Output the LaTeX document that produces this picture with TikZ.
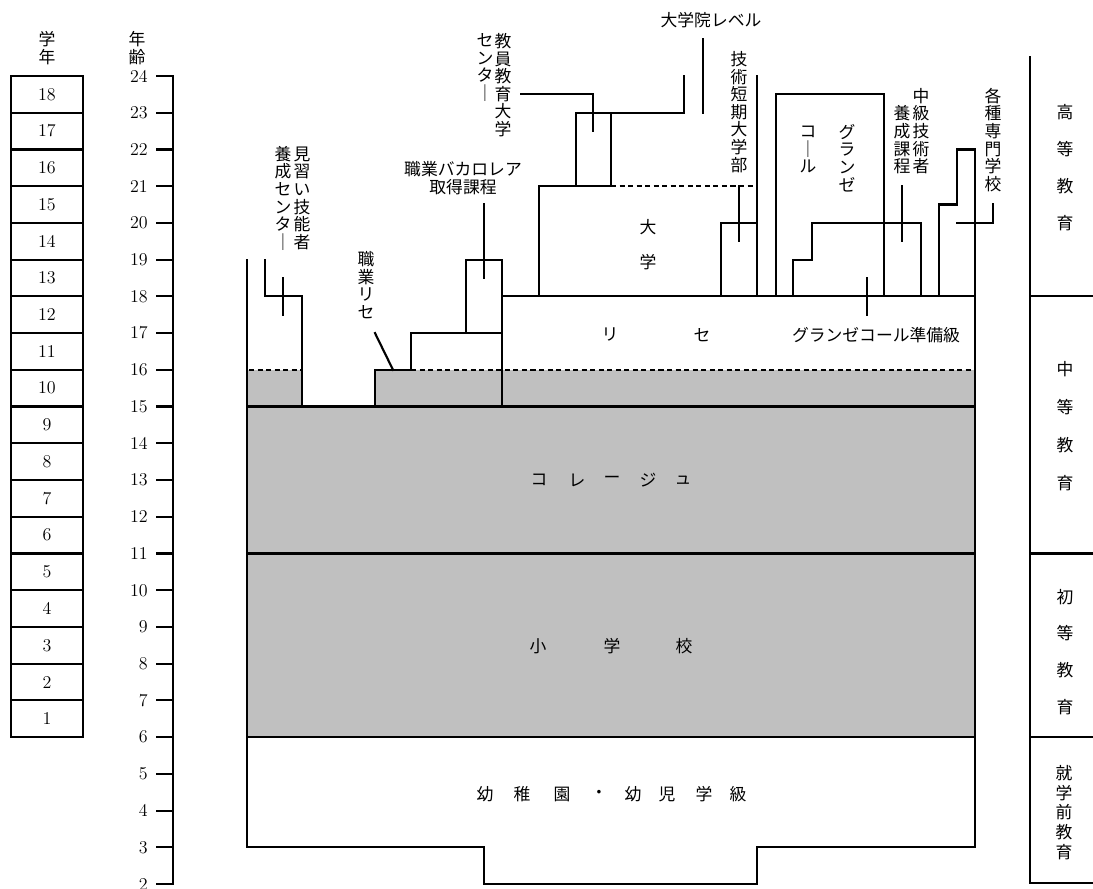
\documentclass[tikz,border=0pt]{standalone}
\usepackage{fontspec}
\newfontfamily\cjk{Noto Sans CJK JP}
\definecolor{fillgray}{RGB}{192,192,192}
\tikzset{
  ln/.style={line width=1.6pt, line cap=rect},
  dl/.style={line width=1.3pt, dash pattern=on 3.8pt off 2.6pt},
  num/.style={font=\fontsize{13.5}{14}\selectfont, inner sep=0pt},
  vt/.style={font=\cjk\fontsize{12.6}{13.2}\selectfont, align=center, inner sep=0pt},
  ht/.style={font=\cjk\fontsize{12.6}{14}\selectfont, align=center, inner sep=0pt},
}
\begin{document}
\begin{tikzpicture}[x=0.75pt, y=27.5475pt]
\useasboundingbox (0,1.892) rectangle (1093,26.069);
% fills
\fill[fillgray] (247,6) rectangle (975,15);
\fill[fillgray] (247,15) rectangle (302,16);
\fill[fillgray] (375,15) rectangle (975,16);
% grade column
\draw[ln] (11,6) rectangle (83,24);
\foreach \a in {7,...,23} \draw[ln] (11,\a) -- (83,\a);
\foreach \g in {1,...,18} \node[num] (g\g) at (47,\g+5.5) {\g};
\node[vt, font=\cjk\fontsize{12.6}{12.8}\selectfont] (gakunen) at (47,24.76) {学\\年};
% age axis
\draw[ln] (173,24) -- (173,2);
\foreach \a in {2,...,24} {
  \draw[ln] (157,\a) -- (173,\a);
  \node[num, anchor=east] (a\a) at (148,\a) {\a};
}
\node[vt, font=\cjk\fontsize{12.6}{12.8}\selectfont] (nenrei) at (137,24.76) {年\\齢};
% main outline
\draw[ln] (247,19) -- (247,3) -- (484,3) -- (484,2) -- (757,2) -- (757,3) -- (975,3) -- (975,22) -- (957,22) -- (957,20.5) -- (939,20.5) -- (939,18);
\draw[ln] (247,6) -- (975,6);
\draw[ln] (247,11) -- (975,11);
\draw[ln] (247,15) -- (975,15);
\draw[ln] (502,18) -- (975,18);
% apprentice centre
\draw[ln] (265,19) -- (265,18) -- (302,18) -- (302,15);
\draw[ln] (283,18.5) -- (283,17.5);
% dashed line age 16
\draw[dl] (249,16) -- (302,16);
\draw[dl] (411,16) -- (975,16);
% vocational lycee / bac pro
\draw[ln] (375,15) -- (375,16) -- (411,16) -- (411,17) -- (502,17);
\draw[ln] (466,17) -- (466,19) -- (502,19) -- (502,15);
\draw[ln] (484,20.5) -- (484,18.5);
\draw[ln] (375,17) -- (393,16);
% university
\draw[ln] (539,18) -- (539,21) -- (611,21) -- (611,23);
\draw[ln] (576,21) -- (576,23) -- (684,23) -- (684,24);
\draw[dl] (611,21) -- (757,21);
\draw[ln] (521,23.5) -- (593,23.5) -- (593,22.5);
\draw[ln] (703,25) -- (703,23);
% short technical
\draw[ln] (721,18) -- (721,20) -- (757,20);
\draw[ln] (757,24) -- (757,18);
\draw[ln] (739,21) -- (739,19.5);
% grandes ecoles
\draw[ln] (776,18) -- (776,23.5) -- (884,23.5) -- (884,18);
\draw[ln] (867,18.5) -- (867,17.5);
% intermediate technicians
\draw[ln] (793,18) -- (793,19) -- (812,19) -- (812,20) -- (921,20) -- (921,18);
\draw[ln] (902,21) -- (902,19.5);
% specialised schools tick
\draw[ln] (957,20) -- (993,20) -- (993,20.5);
% right column
\draw[ln] (1030,24.52) -- (1030,2.03);
\foreach \a in {18,11,6} \draw[ln] (1030,\a) -- (1093,\a);
\draw[ln] (1030,2.03) -- (1093,2.03);
% labels
\node[vt] (mina1) at (302,20.67) {見\\習\\い\\技\\能\\者};
\node[vt] (mina2) at (283,20.67) {養\\成\\セ\\ン\\タ\\｜};
\node[vt] (shokuri) at (366,18.31) {職\\業\\リ\\セ};
\node[ht] (bacpro) at (463,21.22) {職業バカロレア\\取得課程};
\node[vt] (kyoin1) at (503,23.75) {教\\員\\教\\育\\大\\学};
\node[vt] (kyoin2) at (485,24.23) {セ\\ン\\タ\\｜};
\node[ht] (daigakuin) at (711,25.52) {大学院レベル};
\node[vt] (tanki) at (739,23.02) {技\\術\\短\\期\\大\\学\\部};
\node[vt] (grande1) at (847,21.77) {グ\\ラ\\ン\\ゼ};
\node[vt] (grande2) at (808,22.0) {コ\\｜\\ル};
\node[vt] (chukyu1) at (921,22.50) {中\\級\\技\\術\\者};
\node[vt] (chukyu2) at (902,22.26) {養\\成\\課\\程};
\node[vt] (senmon) at (993,22.26) {各\\種\\専\\門\\学\\校};
\node[ht] (dai) at (648,19.89) {大};
\node[ht] (gaku) at (648,18.94) {学};
\node[ht] (ri) at (610,16.95) {リ};
\node[ht] (se) at (702,16.95) {セ};
\node[ht] (prep) at (876,16.95) {グランゼコール準備級};
\node[ht] (c1) at (539,13) {コ};
\node[ht] (c2) at (577,13) {レ};
\node[ht] (c3) at (612,13) {ー};
\node[ht] (c4) at (648,13) {ジ};
\node[ht] (c5) at (683,13) {ュ};
\node[ht] (s1) at (538,8.48) {小};
\node[ht] (s2) at (612,8.48) {学};
\node[ht] (s3) at (684,8.48) {校};
\foreach \ch/\xx [count=\i] in {幼/485,稚/522,園/562,・/599,幼/633,児/667,学/704,級/738}
  \node[ht] (k\i) at (\xx,4.45) {\ch};
\node[vt, font=\cjk\fontsize{12.6}{27.75}\selectfont] (koto) at (1065,21.51) {高\\等\\教\\育};
\node[vt, font=\cjk\fontsize{12.6}{28.3}\selectfont] (chuto) at (1065,14.47) {中\\等\\教\\育};
\node[vt, font=\cjk\fontsize{12.6}{27.5}\selectfont] (shoto) at (1065,8.32) {初\\等\\教\\育};
\node[vt, font=\cjk\fontsize{12.6}{14.8}\selectfont] (shugaku) at (1064,3.95) {就\\学\\前\\教\\育};
\end{tikzpicture}
\end{document}
